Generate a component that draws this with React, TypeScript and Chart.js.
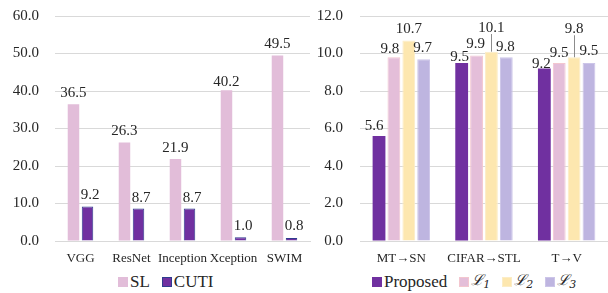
import React, { useEffect, useRef } from "react";
import { Chart, registerables } from "chart.js";

Chart.register(...registerables);

// ---------- data ----------
const leftCategories = ["VGG", "ResNet", "Inception", "Xception", "SWIM"];
const slValues = [36.5, 26.3, 21.9, 40.2, 49.5];
const cutiValues = [9.2, 8.7, 8.7, 1.0, 0.8];
const leftTickMax = 60;
const leftTickStep = 10;

const rightCategories = ["MT→SN", "CIFAR→STL", "T→V"];
const proposedValues = [5.6, 9.5, 9.2];
const l1Values = [9.8, 9.9, 9.5];
const l2Values = [10.7, 10.1, 9.8];
const l3Values = [9.7, 9.8, 9.5];
const rightTickMax = 12;
const rightTickStep = 2;

// ---------- style ----------
const FONT = "'Liberation Serif', 'Times New Roman', 'DejaVu Serif', serif";
const TEXT = "#262626";
const GRID = "#d9d9d9";

// label offsets [dx, dy, leader]
const leftLabelOffsets = [
  [[0, 0], [0, 0], [0, 0], [0, 3], [0, 0]],
  [[2.5, -1], [2.5, 1], [2.5, 1], [2.5, 0], [2.5, -1]],
];
const rightLabelOffsets = [
  [[-5, 1], [-2, 5], [-3, 6]],
  [[-4, 3], [-1, 0], [0, 1]],
  [[0, 0], [0, -12.6, 1], [0, -17, 1]],
  [[-1, 0], [-1, 1], [0, -1]],
];

const valueLabels = {
  id: "valueLabels",
  afterDatasetsDraw(chart: any, _args: any, opts: any) {
    const ctx = chart.ctx;
    ctx.save();
    ctx.font = `15px ${FONT}`;
    ctx.fillStyle = TEXT;
    ctx.textAlign = "center";
    ctx.textBaseline = "alphabetic";
    chart.data.datasets.forEach((ds: any, di: number) => {
      const meta = chart.getDatasetMeta(di);
      meta.data.forEach((bar: any, i: number) => {
        const v = ds.data[i] as number;
        const off = (opts.offsets && opts.offsets[di] && opts.offsets[di][i]) || [0, 0];
        const x = bar.x + off[0];
        const y = bar.y - 7 + off[1];
        if (off[2]) {
          ctx.strokeStyle = "#8c8c8c";
          ctx.lineWidth = 1;
          ctx.beginPath();
          const lx = Math.round(bar.x) + 0.5;
          ctx.moveTo(lx, y + 2);
          ctx.lineTo(lx, bar.y);
          ctx.stroke();
        }
        ctx.fillText(v.toFixed(1), x, y);
      });
    });
    ctx.restore();
  },
};

function makeOptions(max: number, step: number, yWidth: number, tickPad: number, padRight: number, offsets: any) {
  return {
    responsive: false,
    maintainAspectRatio: false,
    animation: false as const,
    layout: { padding: { top: 16, right: padRight, left: 0, bottom: 0 } },
    plugins: {
      legend: { display: false },
      tooltip: { enabled: false },
      valueLabels: { offsets },
    },
    scales: {
      x: {
        grid: { display: false, drawTicks: false },
        border: { display: true, color: GRID },
        ticks: {
          font: { family: FONT, size: 13 },
          color: TEXT,
          padding: 10,
          maxRotation: 0,
          autoSkip: false,
        },
        afterFit: (s: any) => {
          s.height = 27;
          s.paddingLeft = 0;
          s.paddingRight = 0;
        },
      },
      y: {
        min: 0,
        max,
        ticks: {
          stepSize: step,
          callback: (v: any) => Number(v).toFixed(1),
          font: { family: FONT, size: 15 },
          color: TEXT,
          padding: tickPad,
        },
        grid: { color: GRID, drawTicks: false, lineWidth: 1 },
        border: { display: false },
        afterFit: (s: any) => {
          s.width = yWidth;
          s.paddingTop = 0;
          s.paddingBottom = 0;
        },
      },
    },
  };
}

function LeftChart() {
  const ref = useRef<HTMLCanvasElement>(null);
  useEffect(() => {
    const chart = new Chart(ref.current!, {
      type: "bar",
      data: {
        labels: leftCategories,
        datasets: [
          {
            label: "SL",
            data: slValues,
            backgroundColor: "#E2BDD9",
            borderWidth: 0,
            barPercentage: 0.82,
            categoryPercentage: 0.55,
          },
          {
            label: "CUTI",
            data: cutiValues,
            backgroundColor: "#7030A0",
            borderColor: "#2F3C8E",
            borderWidth: 1,
            barPercentage: 0.82,
            categoryPercentage: 0.55,
          },
        ],
      },
      options: makeOptions(leftTickMax, leftTickStep, 55, 16, 2, leftLabelOffsets) as any,
      plugins: [valueLabels as any],
    });
    return () => chart.destroy();
  }, []);
  return (
    <canvas
      ref={ref}
      width={312}
      height={268}
      style={{ position: "absolute", left: 0, top: 0, width: 312, height: 268 }}
    />
  );
}

function RightChart() {
  const ref = useRef<HTMLCanvasElement>(null);
  useEffect(() => {
    const common = { barPercentage: 0.86, categoryPercentage: 0.72 };
    const chart = new Chart(ref.current!, {
      type: "bar",
      data: {
        labels: rightCategories,
        datasets: [
          { label: "Proposed", data: proposedValues, backgroundColor: "#7030A0", borderWidth: 0, ...common },
          { label: "L1", data: l1Values, backgroundColor: "#E4BED9", borderColor: "#F3C6CF", borderWidth: 1, ...common },
          { label: "L2", data: l2Values, backgroundColor: "#FDE7AF", borderColor: "#FCEDC6", borderWidth: 1, ...common },
          { label: "L3", data: l3Values, backgroundColor: "#BEB5E0", borderColor: "#CCC5E8", borderWidth: 1, ...common },
        ],
      },
      options: makeOptions(rightTickMax, rightTickStep, 48, 17, 0, rightLabelOffsets) as any,
      plugins: [valueLabels as any],
    });
    return () => chart.destroy();
  }, []);
  return (
    <canvas
      ref={ref}
      width={296}
      height={268}
      style={{ position: "absolute", left: 312, top: 0, width: 296, height: 268 }}
    />
  );
}

type LegendItem = { color: string; border?: string; label: React.ReactNode };

function Legend({ left, items }: { left: number; items: LegendItem[] }) {
  return (
    <div
      style={{
        position: "absolute",
        left,
        top: 272,
        height: 20,
        display: "flex",
        alignItems: "center",
        fontFamily: FONT,
        fontSize: 17,
        color: TEXT,
        whiteSpace: "nowrap",
        lineHeight: "20px",
      }}
    >
      {items.map((it, i) => (
        <div key={i} style={{ display: "flex", alignItems: "center", marginRight: 12 }}>
          <span
            style={{
              display: "inline-block",
              width: 10,
              height: 10,
              background: it.color,
              boxSizing: "border-box",
              border: it.border ? `1px solid ${it.border}` : "none",
              marginRight: 2,
            }}
          />
          <span>{it.label}</span>
        </div>
      ))}
    </div>
  );
}

const scriptL = (n: string) => (
  <span style={{ fontFamily: "'DejaVu Serif', serif", fontStyle: "italic", fontSize: 15 }}>
    ℒ<sub style={{ fontSize: 11, verticalAlign: "-3px" }}>{n}</sub>
  </span>
);

export default function App() {
  return (
    <div
      style={{
        position: "fixed",
        left: 0,
        top: 0,
        width: 608,
        height: 293,
        background: "#fff",
        overflow: "hidden",
      }}
    >
      <LeftChart />
      <RightChart />
      <Legend
        left={118}
        items={[
          { color: "#E2BDD9", label: "SL" },
          { color: "#7030A0", border: "#2F3C8E", label: "CUTI" },
        ]}
      />
      <Legend
        left={372}
        items={[
          { color: "#7030A0", label: "Proposed" },
          { color: "#E4BED9", border: "#F3C6CF", label: scriptL("1") },
          { color: "#FDE7AF", border: "#FCEDC6", label: scriptL("2") },
          { color: "#BEB5E0", border: "#CCC5E8", label: scriptL("3") },
        ]}
      />
    </div>
  );
}
